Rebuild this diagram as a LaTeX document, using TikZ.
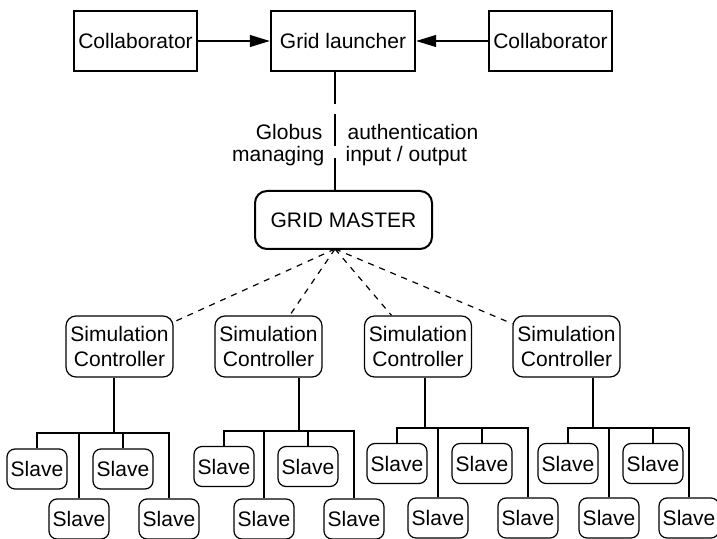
\documentclass[tikz,border=0pt]{standalone}
\usepackage{fontspec}
\setmainfont{Liberation Sans}
\usetikzlibrary{arrows.meta}

\begin{document}
\begin{tikzpicture}[x=0.5pt, y=-0.5pt, line width=0.6pt,
    font=\fontsize{10.5}{12.5}\selectfont,
    collab/.style = {draw, minimum width=61.5pt, minimum height=30pt, inner sep=0pt},
    launch/.style = {draw, line width=1.2pt, minimum width=72pt, minimum height=30pt},
    master/.style = {draw, rounded corners=6pt, line width=1pt, minimum width=88.5pt, minimum height=29pt},
    ctrl/.style   = {draw, rounded corners=5pt, align=center, minimum width=53.5pt, minimum height=30.5pt, inner sep=1pt},
    slave/.style  = {draw, rounded corners=4pt, minimum width=30pt, minimum height=20pt, inner sep=1pt},
    lbl/.style    = {inner sep=0pt},
    push/.style   = {-{Triangle[length=10pt, width=6pt]}}]
    \useasboundingbox (0,0) rectangle (717,539);

    % top row
    \node[collab] (col1)   at (135.5,41) {Collaborator};
    \node[launch] (launch) at (343,41)   {Grid launcher};
    \node[collab] (col2)   at (550.5,41) {Collaborator};
    \draw[push] (col1) -- (launch);
    \draw[push] (col2) -- (launch);

    % master
    \node[master] (gm) at (343.5,220) {GRID MASTER};
    \coordinate (hub) at (335,249);
    \draw[dash pattern={on 16pt off 5pt on 16pt off 6pt on 30pt}] (hub |- launch.south) -- (hub |- gm.north);
    \node[lbl, anchor=base east] (globus)   at (323,140) {Globus};
    \node[lbl, anchor=base east] (managing) at (325,162) {managing};
    \node[lbl, anchor=base west] (auth)     at (347,140) {authentication};
    \node[lbl, anchor=base west] (inout)    at (345,162) {input / output};

    % controllers
    \node[ctrl] (sc1) at (119.5,346.5) {Simulation\\Controller};
    \node[ctrl] (sc2) at (268.5,346.5) {Simulation\\Controller};
    \node[ctrl] (sc3) at (418,346.5)   {Simulation\\Controller};
    \node[ctrl] (sc4) at (566.5,346.5) {Simulation\\Controller};
    \draw[dashed] (hub) -- (sc1);
    \draw[dashed] (hub) -- (sc2);
    \draw[dashed] (hub) -- (sc3);
    \draw[dashed] (hub) -- (sc4);

    % slaves
    \node[slave] (s1a) at (37,469)    {Slave};
    \node[slave] (s1b) at (79,519)    {Slave};
    \node[slave] (s1c) at (123,469)   {Slave};
    \node[slave] (s1d) at (169,519)   {Slave};
    \node[slave] (s2a) at (224,466.5) {Slave};
    \node[slave] (s2b) at (264,519)   {Slave};
    \node[slave] (s2c) at (308,466.5) {Slave};
    \node[slave] (s2d) at (354,519)   {Slave};
    \node[slave] (s3a) at (397,463.5) {Slave};
    \node[slave] (s3b) at (438,518)   {Slave};
    \node[slave] (s3c) at (482,463.5) {Slave};
    \node[slave] (s3d) at (528,518)   {Slave};
    \node[slave] (s4a) at (568,463.5) {Slave};
    \node[slave] (s4b) at (609,518)   {Slave};
    \node[slave] (s4c) at (653,463.5) {Slave};
    \node[slave] (s4d) at (689,518)   {Slave};

    % buses
    \coordinate (j1) at (114,433);
    \coordinate (j2) at (299,431);
    \coordinate (j3) at (425,428);
    \coordinate (j4) at (593,428);
    \draw (sc1.south -| j1) -- (j1);
    \draw (sc2.south -| j2) -- (j2);
    \draw (sc3.south -| j3) -- (j3);
    \draw (sc4.south -| j4) -- (j4);
    \draw (s1a.north) |- (j1) -| (s1d.north);
    \draw (s1b.north) -- (s1b.north |- j1);
    \draw (s1c.north) -- (s1c.north |- j1);
    \draw (s2a.north) |- (j2) -| (s2d.north);
    \draw (s2b.north) -- (s2b.north |- j2);
    \draw (s2c.north) -- (s2c.north |- j2);
    \draw (s3a.north) |- (j3) -| (s3d.north);
    \draw (s3b.north) -- (s3b.north |- j3);
    \draw (s3c.north) -- (s3c.north |- j3);
    \draw (s4a.north) |- (j4) -| (s4d.north);
    \draw (s4b.north) -- (s4b.north |- j4);
    \draw (s4c.north) -- (s4c.north |- j4);
\end{tikzpicture}
\end{document}
